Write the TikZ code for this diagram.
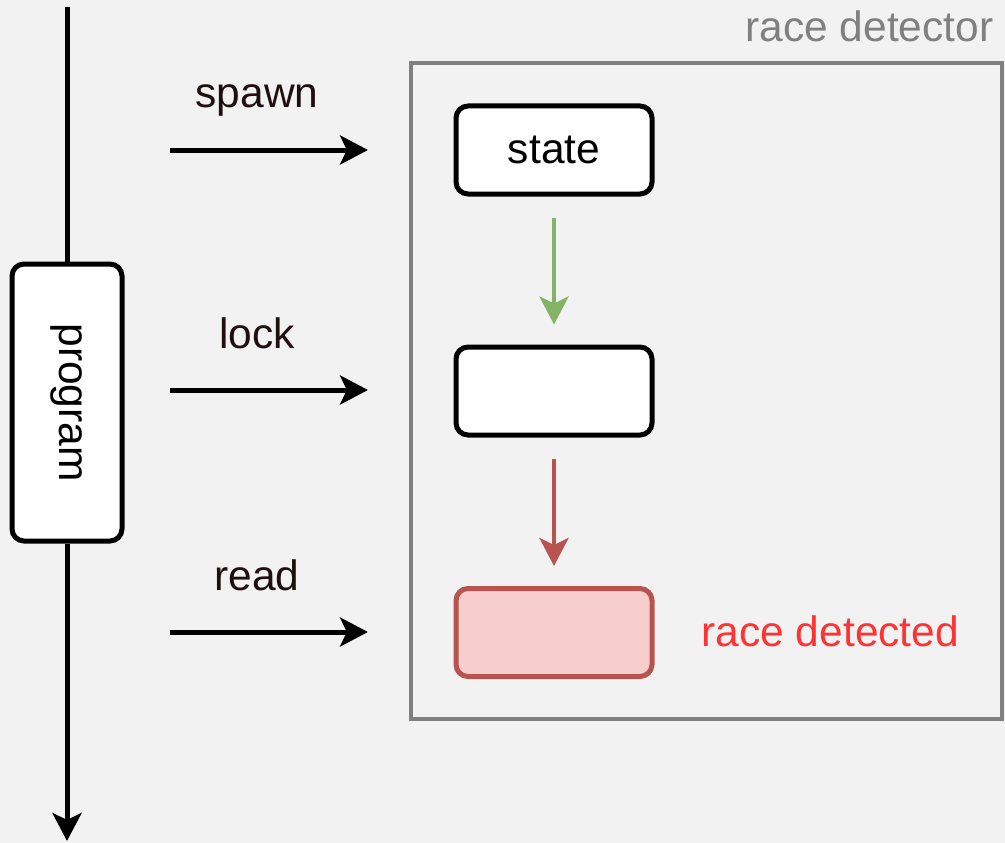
\documentclass[tikz,border=0pt]{standalone}
\usepackage{fontspec}
\setmainfont{Liberation Sans}
\usetikzlibrary{arrows.meta}

\definecolor{canvas}{HTML}{F2F2F2}
\definecolor{frame}{HTML}{808080}
\definecolor{okgreen}{HTML}{82B366}
\definecolor{badred}{HTML}{B85450}
\definecolor{badfill}{HTML}{F8CECC}
\definecolor{alert}{HTML}{FF3333}
\definecolor{ink}{HTML}{1F0F0F}

\begin{document}
\begin{tikzpicture}[x=1pt, y=-1pt, font=\fontsize{42.5}{50}\selectfont,
  box/.style={draw, line width=5pt, fill=white, rounded corners=12pt,
    minimum width=196pt, minimum height=88pt, inner sep=0pt},
  tip/.style={-{Stealth[length=28pt,width=29pt,inset=7pt]}},
  call/.style={tip, line width=5pt}]
\fill[canvas] (0,0) rectangle (1005,843);
\useasboundingbox (0,0) rectangle (1005,843);

%program timeline
\node[box, minimum width=277pt, minimum height=110pt, rotate=-90] (prog) at (67,402.5) {program};
\coordinate (ptop) at (67,7);
\coordinate (pbot) at (67,841);
\draw[line width=5pt] (ptop) -- (prog);
\draw[call] (prog) -- (pbot);

%events sent to the detector
\foreach \ev/\y in {spawn/150, lock/390, read/632} {
  \coordinate (\ev from) at (170,\y);
  \coordinate (\ev to) at (368,\y);
  \draw[call] (\ev from) -- (\ev to);
  \node[ink, anchor=base] (\ev) at (257,\y-42) {\ev};
}

%detector
\node[draw=frame, line width=4.5pt, minimum width=591pt, minimum height=656pt, inner sep=0pt] (detector) at (706.5,391) {};
\node[frame, anchor=base east] (detlabel) at (997,42) {race detector};

\node[box] (state) at (554,150) {state};
\node[box] (held) at (554,391) {};
\node[box, draw=badred, fill=badfill] (conflict) at (554,632.5) {};
\node[alert, anchor=base west] (verdict) at (698,646) {race detected};

\draw[tip, okgreen, line width=4.5pt, shorten <=21pt, shorten >=20pt] (state) -- (held);
\draw[tip, badred, line width=4.5pt, shorten <=21pt, shorten >=20pt] (held) -- (conflict);
\end{tikzpicture}
\end{document}
